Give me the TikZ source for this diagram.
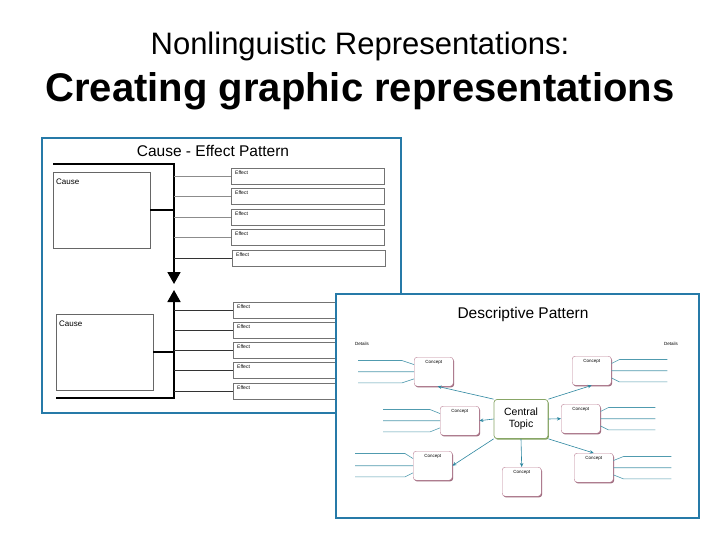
\documentclass[tikz,border=0pt]{standalone}
\usepackage{fontspec}
\setmainfont{Liberation Sans}
\usepackage{xcolor}
\usepackage{tikz}
\usetikzlibrary{arrows.meta,shadows}

\definecolor{panelblue}{RGB}{38,122,168}
\definecolor{conceptred}{RGB}{165,85,115}
\definecolor{topicgreen}{RGB}{115,150,75}
\definecolor{linkteal}{RGB}{45,135,160}
\definecolor{detailteal}{RGB}{80,155,175}

\begin{document}
\begin{tikzpicture}[x=1pt,y=-1pt]
        % Define styles
        \tikzset{
            panel/.style={rectangle, draw=panelblue, line width=2pt, fill=white},
            cause/.style={rectangle, draw=black!60, fill=white, anchor=north west, minimum width=97pt, minimum height=76pt, inner xsep=3pt, inner ysep=2pt, text width=91pt, align=left, text height=10pt, text depth=62pt, font=\fontsize{8}{9}\selectfont},
            effect/.style={rectangle, draw=black!55, fill=white, anchor=north west, minimum width=153pt, minimum height=16pt, inner xsep=4pt, inner ysep=2pt, text width=145pt, align=left, text height=4pt, text depth=8pt, font=\fontsize{5}{6}\selectfont, drop shadow={shadow xshift=0.9pt, shadow yshift=-1.2pt, opacity=0.6, fill=black}},
            concept/.style={rectangle, rounded corners=3pt, draw=conceptred!75, fill=white, anchor=north west, minimum width=39pt, minimum height=29pt, inner sep=1.5pt, text width=36pt, align=center, text height=5pt, text depth=21pt, font=\fontsize{4.5}{5}\selectfont, drop shadow={shadow xshift=0.9pt, shadow yshift=-1.2pt, opacity=0.8, fill=conceptred!80!black}},
            topic/.style={rectangle, rounded corners=3pt, draw=topicgreen!85, line width=0.7pt, fill=white, minimum width=54pt, minimum height=39pt, inner sep=1pt, align=center, font=\fontsize{10.5}{11.5}\selectfont, drop shadow={shadow xshift=0.9pt, shadow yshift=-1.2pt, opacity=0.9, fill=topicgreen}},
            spine/.style={line width=1.8pt, -{Triangle[width=13pt,length=12pt]}},
            stub/.style={line width=1.8pt},
            feeder/.style={line width=0.6pt, draw=black!45},
            darkfeeder/.style={line width=0.7pt, draw=black!80},
            arrow/.style={->, >={Stealth[length=4pt,width=3.5pt]}, draw=linkteal, line width=0.6pt},
            detail/.style={draw=detailteal, line width=0.6pt}
        }

        \fill[white] (0,0) rectangle (720,540);
        \useasboundingbox (0,0) rectangle (720,540);

        % Titles
        \node[anchor=base, font=\fontsize{31}{36}\selectfont] (title_line_1) at (360,55) {Nonlinguistic Representations:};
        \node[anchor=base, font=\fontsize{40}{46}\selectfont\bfseries] (title_line_2) at (360,102) {Creating graphic representations};

        % Cause - effect panel
        \draw[panel] (42,138) rectangle (401,413);
        \node[anchor=base, font=\fontsize{15.5}{17}\selectfont] (cause_effect_title) at (213,157) {Cause - Effect Pattern};

        \coordinate (corner_top) at (53,164);
        \coordinate (spine_top) at (174,164);
        \coordinate (arrow_down_tip) at (174,284);
        \coordinate (corner_bottom) at (56,398);
        \coordinate (spine_bottom) at (174,398);
        \coordinate (arrow_up_tip) at (174,290);

        \node[cause] (cause_node_1) at (53,172) {Cause};
        \node[effect] (effect_node_1) at (231,168) {Effect};
        \node[effect] (effect_node_2) at (231,188) {Effect};
        \node[effect] (effect_node_3) at (231,209) {Effect};
        \node[effect] (effect_node_4) at (231,229) {Effect};
        \node[effect] (effect_node_5) at (232,250) {Effect};

        \node[cause] (cause_node_2) at (56,314) {Cause};
        \node[effect] (effect_node_6) at (233,302) {Effect};
        \node[effect] (effect_node_7) at (233,322) {Effect};
        \node[effect] (effect_node_8) at (233,342) {Effect};
        \node[effect] (effect_node_9) at (233,362) {Effect};
        \node[effect] (effect_node_10) at (233,383) {Effect};

        % Lines
        \draw[spine] (corner_top) -- (spine_top) -- (arrow_down_tip);
        \draw[spine] (corner_bottom) -- (spine_bottom) -- (arrow_up_tip);
        \draw[stub] (cause_node_1.east) -- (cause_node_1.east -| spine_top);
        \draw[stub] (cause_node_2.east) -- (cause_node_2.east -| spine_top);
        \draw[feeder] (effect_node_1.west -| spine_top) -- (effect_node_1.west);
        \draw[feeder] (effect_node_2.west -| spine_top) -- (effect_node_2.west);
        \draw[feeder] (effect_node_3.west -| spine_top) -- (effect_node_3.west);
        \draw[feeder] (effect_node_4.west -| spine_top) -- (effect_node_4.west);
        \draw[darkfeeder] (effect_node_5.west -| spine_top) -- (effect_node_5.west);
        \draw[darkfeeder] (effect_node_6.west -| spine_top) -- (effect_node_6.west);
        \draw[darkfeeder] (effect_node_7.west -| spine_top) -- (effect_node_7.west);
        \draw[darkfeeder] (effect_node_8.west -| spine_top) -- (effect_node_8.west);
        \draw[darkfeeder] (effect_node_9.west -| spine_top) -- (effect_node_9.west);
        \draw[darkfeeder] (effect_node_10.west -| spine_top) -- (effect_node_10.west);

        % Descriptive panel
        \draw[panel] (336,294) rectangle (699,518);
        \node[anchor=base, font=\fontsize{15.5}{17}\selectfont] (descriptive_title) at (523,318) {Descriptive Pattern};
        \node[font=\fontsize{4.5}{5}\selectfont] (details_left) at (362,344) {Details};
        \node[font=\fontsize{4.5}{5}\selectfont] (details_right) at (671,344) {Details};

        \node[topic] (central_topic) at (521,419) {Central\\Topic};
        \node[concept] (concept_node_1) at (414,357) {Concept};
        \node[concept] (concept_node_2) at (572,356) {Concept};
        \node[concept] (concept_node_3) at (440,406) {Concept};
        \node[concept] (concept_node_4) at (561,404) {Concept};
        \node[concept] (concept_node_5) at (413,451) {Concept};
        \node[concept] (concept_node_6) at (502,467) {Concept};
        \node[concept] (concept_node_7) at (574,453) {Concept};

        % Arrows
        \draw[arrow] (central_topic.north west) -- (concept_node_1.-75);
        \draw[arrow] (central_topic.north east) -- (concept_node_2.south);
        \draw[arrow] (central_topic.west) -- (concept_node_3.east);
        \draw[arrow] (central_topic.east) -- (concept_node_4.west);
        \draw[arrow] (central_topic.south west) -- (concept_node_5.east);
        \draw[arrow] (central_topic.south) -- (concept_node_6.north);
        \draw[arrow] (central_topic.south east) -- (concept_node_7.north);

        % Details
        \draw[detail] (concept_node_1.160) -- ++(-12,-4) -- ++(-44,0) (concept_node_1.west) -- ++(-56,0) (concept_node_1.200) -- ++(-12,4) -- ++(-44,0);
        \draw[detail] (concept_node_2.20) -- ++(8,-4) -- ++(48,0) (concept_node_2.east) -- ++(56,0) (concept_node_2.-20) -- ++(8,4) -- ++(48,0);
        \draw[detail] (concept_node_3.160) -- ++(-10,-4) -- ++(-47,0) (concept_node_3.west) -- ++(-57,0) (concept_node_3.200) -- ++(-10,4) -- ++(-47,0);
        \draw[detail] (concept_node_4.20) -- ++(8,-4) -- ++(47,0) (concept_node_4.east) -- ++(55,0) (concept_node_4.-20) -- ++(8,4) -- ++(47,0);
        \draw[detail] (concept_node_5.160) -- ++(-8,-5) -- ++(-50,0) (concept_node_5.west) -- ++(-58,0) (concept_node_5.200) -- ++(-8,4) -- ++(-50,0);
        \draw[detail] (concept_node_7.20) -- ++(10,-4) -- ++(48,0) (concept_node_7.east) -- ++(58,0) (concept_node_7.-20) -- ++(10,4) -- ++(48,0);
    \end{tikzpicture}
\end{document}
